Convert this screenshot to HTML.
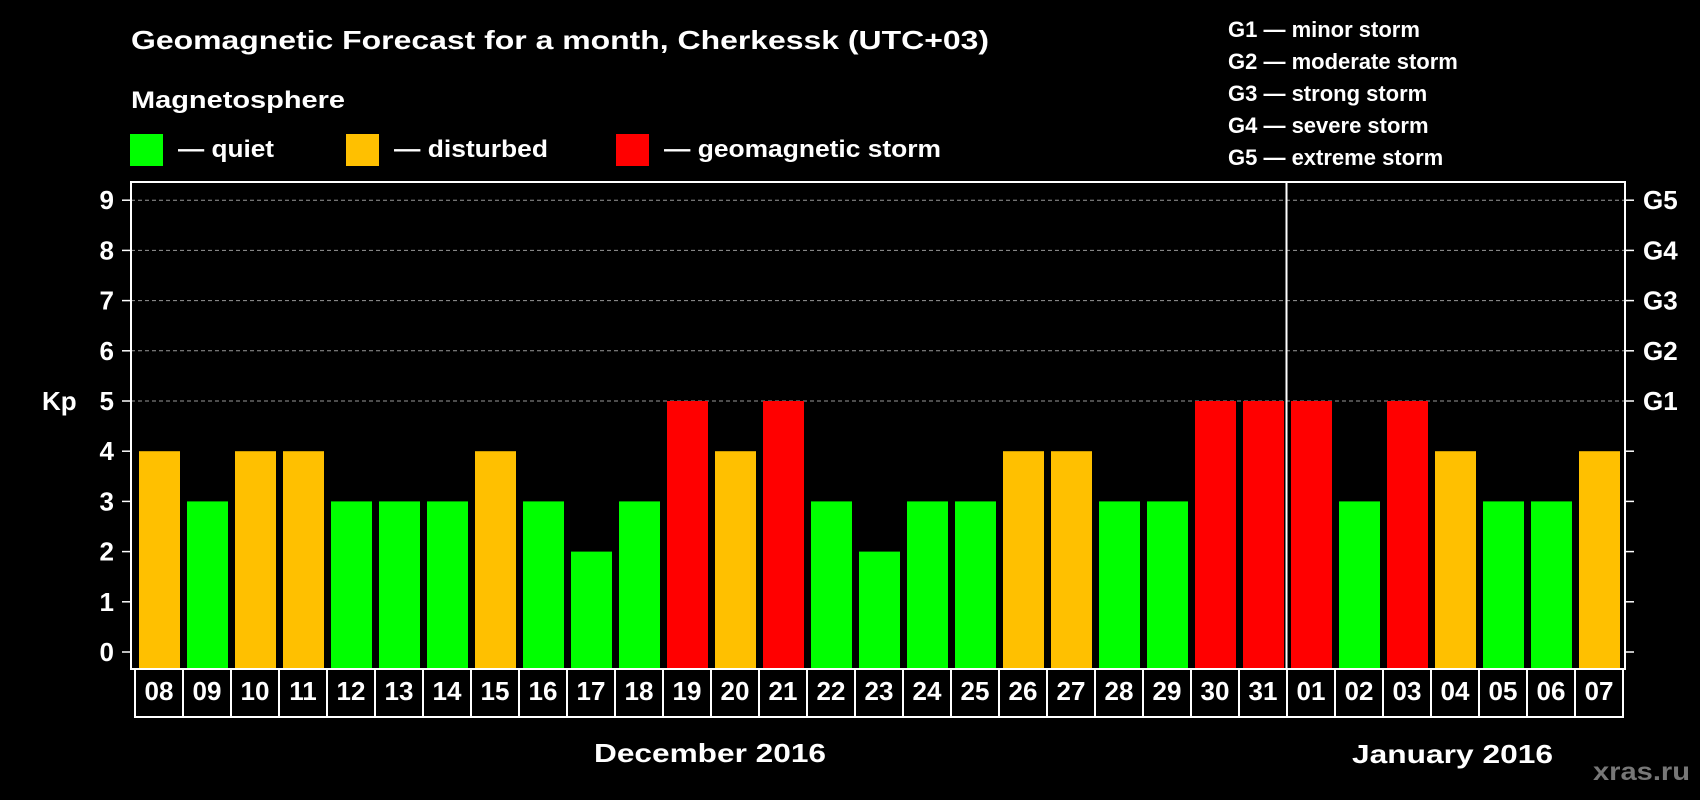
<!DOCTYPE html>
<html><head><meta charset="utf-8"><style>
html,body{margin:0;padding:0;background:#000;}
svg{display:block;font-family:"Liberation Sans",Arial,sans-serif;font-weight:bold;}
</style></head><body>
<svg id="chart" width="1700" height="800" viewBox="0 0 1700 800" xmlns="http://www.w3.org/2000/svg">
<rect width="1700" height="800" fill="#000"/>
<text x="131" y="49" fill="#fff" font-size="26" textLength="858" lengthAdjust="spacingAndGlyphs">Geomagnetic Forecast for a month, Cherkessk (UTC+03)</text>
<text x="131" y="108" fill="#fff" font-size="24" textLength="214" lengthAdjust="spacingAndGlyphs">Magnetosphere</text>
<g>
<rect x="130" y="134" width="33" height="32" fill="#00ff00"/>
<text x="178" y="157" fill="#fff" font-size="24" textLength="96" lengthAdjust="spacingAndGlyphs">— quiet</text></g>
<g>
<rect x="346" y="134" width="33" height="32" fill="#ffc000"/>
<text x="394" y="157" fill="#fff" font-size="24" textLength="154" lengthAdjust="spacingAndGlyphs">— disturbed</text></g>
<g>
<rect x="616" y="134" width="33" height="32" fill="#ff0000"/>
<text x="664" y="157" fill="#fff" font-size="24" textLength="277" lengthAdjust="spacingAndGlyphs">— geomagnetic storm</text></g>
<g font-size="22" fill="#fff">
<text x="1228" y="37">G1 — minor storm</text>
<text x="1228" y="69">G2 — moderate storm</text>
<text x="1228" y="101">G3 — strong storm</text>
<text x="1228" y="133">G4 — severe storm</text>
<text x="1228" y="165">G5 — extreme storm</text>
</g>
<g id="grid"></g>
<g id="bars"></g>
<g id="axes"></g>
<g id="xlabels"></g>
<text x="42" y="410" fill="#fff" font-size="26">Kp</text>
<text x="594" y="762" fill="#fff" font-size="26" textLength="232" lengthAdjust="spacingAndGlyphs">December 2016</text>
<text x="1352" y="763" fill="#fff" font-size="26" textLength="201" lengthAdjust="spacingAndGlyphs">January 2016</text>
<text x="1593" y="780" fill="#777" font-size="25" textLength="97" lengthAdjust="spacingAndGlyphs">xras.ru</text>
</svg>
<script>
const days = ["08","09","10","11","12","13","14","15","16","17","18","19","20","21","22","23","24","25","26","27","28","29","30","31","01","02","03","04","05","06","07"];
const kpValues = [4,3,4,4,3,3,3,4,3,2,3,5,4,5,3,2,3,3,4,4,3,3,5,5,5,3,5,4,3,3,4];
const yTicks = [0,1,2,3,4,5,6,7,8,9];
const gLabels = ["G1","G2","G3","G4","G5"];
const gLevels = [5,6,7,8,9];
const monthBreakIndex = 24;

const NS = "http://www.w3.org/2000/svg";
const plotL = 131, plotR = 1625, plotT = 182, plotB = 669;
const cellX0 = 135, cellW = 48;
function yScale(v){ return 652 - v * 50.2; }
function xScale(i){ return cellX0 + i * cellW; }
function mk(tag, attrs, parent){ const e = document.createElementNS(NS, tag); for (const k in attrs) e.setAttribute(k, attrs[k]); parent.appendChild(e); return e; }
function colorFor(v){ return v >= 5 ? "#ff0000" : (v >= 4 ? "#ffc000" : "#00ff00"); }

const grid = document.getElementById("grid");
gLevels.forEach(v => {
  const l = mk("line", {x1: plotL, x2: plotR, y1: yScale(v), y2: yScale(v), stroke: "#999", "stroke-width": 1, "stroke-dasharray": "4,3"}, grid);
  
  
});

const bars = document.getElementById("bars");
kpValues.forEach((v, i) => {
  const y = yScale(v);
  const r = mk("rect", {x: xScale(i) + 4, y: y, width: 41, height: plotB - y, fill: colorFor(v)}, bars);
  
  
});

const axes = document.getElementById("axes");
const box = mk("rect", {x: plotL, y: plotT, width: plotR - plotL, height: plotB - plotT, fill: "none", stroke: "#fff", "stroke-width": 2}, axes);


const div = mk("line", {x1: xScale(monthBreakIndex) - 0.5, x2: xScale(monthBreakIndex) - 0.5, y1: plotT, y2: plotB, stroke: "#fff", "stroke-width": 2}, axes);


yTicks.forEach(v => {
  const y = yScale(v);
  const t1 = mk("line", {x1: 122, x2: plotL, y1: y, y2: y, stroke: "#fff", "stroke-width": 1.5}, axes);
  
  
  const t2 = mk("line", {x1: plotR, x2: 1634, y1: y, y2: y, stroke: "#fff", "stroke-width": 1.5}, axes);
  
  
  const tx = mk("text", {x: 114, y: y + 9, fill: "#fff", "font-size": 26, "text-anchor": "end"}, axes);
  tx.textContent = String(v);
  
  
});
gLevels.forEach((v, i) => {
  const tx = mk("text", {x: 1643, y: yScale(v) + 9, fill: "#fff", "font-size": 26}, axes);
  tx.textContent = gLabels[i];
  
  
});

const xl = document.getElementById("xlabels");
days.forEach((d, i) => {
  const r = mk("rect", {x: xScale(i), y: plotB, width: cellW, height: 48, fill: "#000", stroke: "#fff", "stroke-width": 2}, xl);
  
  
  const t = mk("text", {x: xScale(i) + cellW / 2, y: 700, fill: "#fff", "font-size": 26, "text-anchor": "middle"}, xl);
  t.textContent = d;
  
  
});
</script>
</body></html>
